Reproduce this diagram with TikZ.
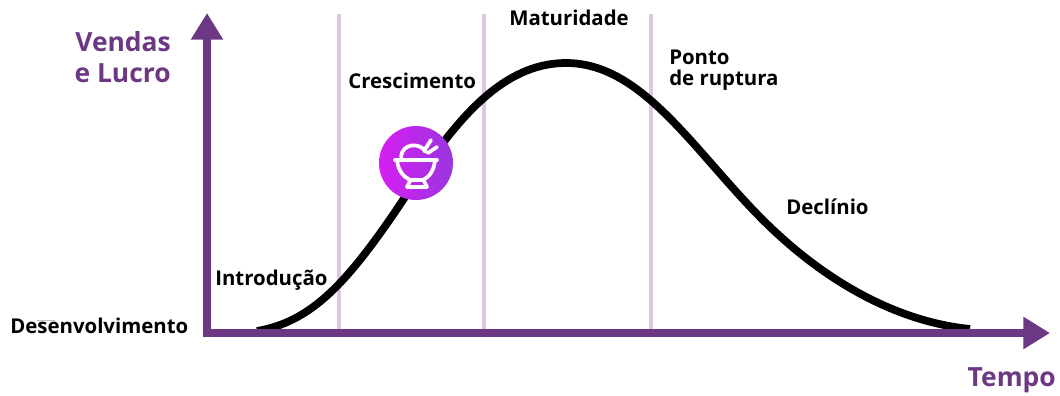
\documentclass[tikz,border=0pt]{standalone}
\usepackage{fontspec}
\setmainfont{Open Sans}
\usetikzlibrary{arrows.meta}
\definecolor{axispurple}{HTML}{6C3883}
\definecolor{linelilac}{HTML}{DFC6E3}
\definecolor{iconleft}{HTML}{D61FF2}
\definecolor{iconright}{HTML}{9A35DE}
\tikzset{
    axisline/.style={axispurple, line width=6pt, -{Triangle[length=20pt, width=23pt]}},
    stageline/.style={linelilac, line width=3pt},
    stagelabel/.style={font=\bfseries\fontsize{15.3}{16}\selectfont, text=black, inner sep=0pt, align=left},
    axislabel/.style={font=\bfseries\fontsize{19.8}{23.5}\selectfont, text=axispurple, inner sep=0pt, align=left},
    iconstroke/.style={white, line width=2.8pt, line cap=round, line join=round}
}
\begin{document}
\begin{tikzpicture}[x=0.75pt, y=-0.75pt]
        % Fix the page to the size of the reference
        \useasboundingbox (0,0) rectangle (1060,396);

        % Draw the stage lines
        \foreach \x in {339, 484, 651} {
            \draw[stageline] (\x, 14) -- (\x, 330);
        }

        % Draw the sales curve
        \draw[black, line width=5.8pt] (257,331) .. controls (310,322) and (345,285) .. (395,212)
            .. controls (440,145) and (490,63) .. (566,63)
            .. controls (640,63) and (690,145) .. (757,214)
            .. controls (825,284) and (900,322) .. (970,329);

        % Draw the axes
        \coordinate (origin) at (207,333);
        \coordinate (ytip) at (207,13);
        \coordinate (xtip) at (1050,333);
        \draw[axisline] (207,337) -- (ytip);
        \draw[axisline] (203,333) -- (xtip);

        % Add the icon
        \shade[left color=iconleft, right color=iconright] (416,163) circle [radius=37];
        \draw[iconstroke] (395,160) -- (437,160);
        \draw[iconstroke] (397,160) .. controls (398,171) and (404,177) .. (410,180) -- (423,180) .. controls (429,177) and (434,171) .. (435,160);
        \draw[iconstroke] (410,181) -- (407,187) -- (427,187) -- (424,181);
        \draw[iconstroke] (401,157) .. controls (402,143) and (420,142) .. (426,152);
        \draw[iconstroke] (424,151) -- (431,140);
        \draw[iconstroke] (428,153) -- (437,147);

        % Add the stage labels
        \node[stagelabel, anchor=west] (dev) at (10,326) {Desenvolvimento};
        \node[stagelabel, anchor=west] (intro) at (215,280) {Introdução};
        \node[stagelabel, anchor=west] (growth) at (348,81) {Crescimento};
        \node[stagelabel, anchor=west] (mature) at (509,18) {Maturidade};
        \node[stagelabel, anchor=west] (peak) at (669,70) {Ponto\\de ruptura};
        \node[stagelabel, anchor=west] (decline) at (786,207) {Declínio};
        \draw[gray!50, line width=0.5pt] (37,320) -- (55,320);

        % Add the axis labels
        \node[axislabel, anchor=east, align=right] (yname) at (171,57) {Vendas\\e Lucro};
        \node[axislabel, anchor=east] (xname) at (1056,380) {Tempo};
\end{tikzpicture}
\end{document}
